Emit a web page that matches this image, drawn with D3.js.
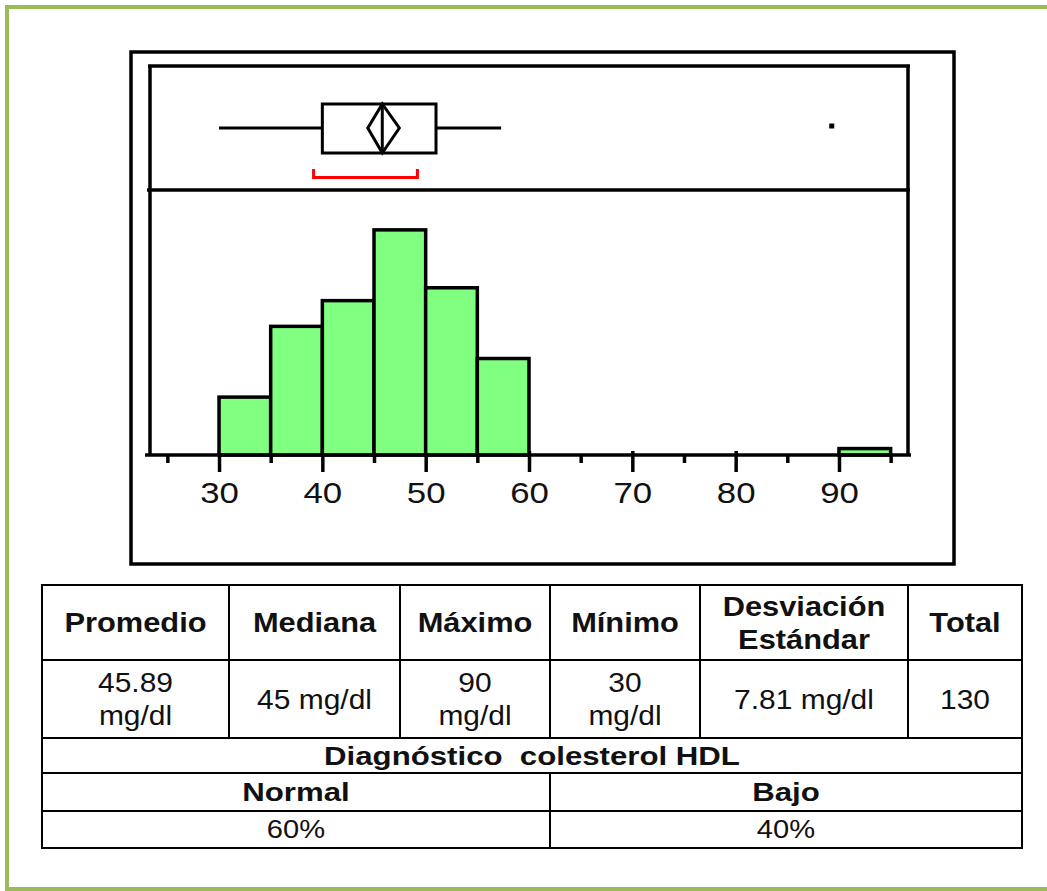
<!DOCTYPE html>
<html>
<head>
<meta charset="utf-8">
<script src="https://cdn.jsdelivr.net/npm/d3@7"></script>
<style>
  body { margin: 0; background: #fff; }
  svg { display: block; }
</style>
</head>
<body>
<script>
// HDL histogram + boxplot, stats table below

// histogram data (5 mg/dl bins)
var binStarts = [30, 35, 40, 45, 50, 55, 90];
var binWidth = 5;
var counts = [9, 20, 24, 35, 26, 15, 1];

// boxplot
var whiskers = [30, 57.3];
var quartiles = [40, 51];
var centreLine = 45.8;
var diamond = [44.4, 47.45];
var shortest = [39.15, 49.2];
var outliers = [89.3];

// axis ticks
var majorTicks = [30, 40, 50, 60, 70, 80, 90];
var minorTicks = [25, 35, 45, 55, 65, 75, 85, 95];

// table
var headers = [["Promedio"], ["Mediana"], ["Máximo"], ["Mínimo"], ["Desviación", "Estándar"], ["Total"]];
var values = [["45.89", "mg/dl"], ["45 mg/dl"], ["90", "mg/dl"], ["30", "mg/dl"], ["7.81 mg/dl"], ["130"]];
var diagTitle = "Diagnóstico  colesterol HDL";
var diagLabels = ["Normal", "Bajo"];
var diagValues = ["60%", "40%"];

var W = 1047, H = 891;
var svg = d3.select("body").append("svg").attr("width", W).attr("height", H);

// green frame
svg.append("rect").attr("x", 7).attr("y", 7).attr("width", 1050).attr("height", 882)
   .attr("fill", "none").attr("stroke", "#9bbb59").attr("stroke-width", 4);

// outer chart box
svg.append("rect").attr("x", 131).attr("y", 52).attr("width", 823).attr("height", 512)
   .attr("fill", "none").attr("stroke", "#000").attr("stroke-width", 3.5);

var pLeft = 150, pRight = 908, pTop = 66, pSep = 190, pBase = 455;

var x = d3.scaleLinear().domain([23.32, 96.68]).range([pLeft, pRight]);
var y = d3.scaleLinear().domain([0, 41.2]).range([pBase, pSep]);

// inner box
var g = svg.append("g").attr("stroke", "#000").attr("stroke-width", 3.5);
g.append("line").attr("x1", pLeft - 2).attr("x2", pRight + 2).attr("y1", pTop).attr("y2", pTop);
g.append("line").attr("x1", pLeft).attr("x2", pLeft).attr("y1", pTop).attr("y2", pBase);
g.append("line").attr("x1", pRight).attr("x2", pRight).attr("y1", pTop).attr("y2", pBase);
g.append("line").attr("x1", pLeft - 3).attr("x2", pRight + 2).attr("y1", pSep).attr("y2", pSep);

// small up-ticks
svg.append("g").attr("transform", "translate(0," + pBase + ")")
   .call(d3.axisBottom(x).tickValues(majorTicks).tickSize(-4).tickSizeOuter(0).tickFormat(""))
   .call(function(a) { a.select(".domain").remove(); a.selectAll("line").attr("stroke-width", 3.5); });

// histogram bars
svg.append("g").selectAll("rect")
   .data(binStarts)
   .enter()
   .append("rect")
   .attr("x", function(d) { return x(d); })
   .attr("width", function(d) { return x(d + binWidth) - x(d); })
   .attr("y", function(d, i) { return y(counts[i]); })
   .attr("height", function(d, i) { return y(0) - y(counts[i]); })
   .attr("fill", "#80ff80")
   .attr("stroke", "#000")
   .attr("stroke-width", 3.5);

// axis
var ax = svg.append("g").attr("transform", "translate(0," + pBase + ")")
   .call(d3.axisBottom(x).tickValues(majorTicks).tickSize(17).tickSizeOuter(0).tickPadding(10));
ax.select(".domain").attr("stroke-width", 3.5).attr("d", "M" + (pLeft - 5) + ",0H" + (pRight + 3));
ax.selectAll(".tick line").attr("stroke-width", 3.5);
ax.selectAll("text")
  .attr("font-family", "Liberation Sans, Arial, sans-serif")
  .attr("font-size", 30)
  .attr("fill", "#111")
  .attr("transform", "scale(1.16,1)");

svg.append("g").attr("transform", "translate(0," + pBase + ")")
   .call(d3.axisBottom(x).tickValues(minorTicks).tickSize(8).tickSizeOuter(0).tickFormat(""))
   .call(function(a) { a.select(".domain").remove(); a.selectAll("line").attr("stroke-width", 3.5); });

// boxplot
var by = 128, bt = 104, bb = 153;
var bp = svg.append("g").attr("stroke", "#000").attr("stroke-width", 3).attr("fill", "none");
bp.append("line").attr("x1", x(whiskers[0])).attr("x2", x(quartiles[0])).attr("y1", by).attr("y2", by);
bp.append("line").attr("x1", x(quartiles[1])).attr("x2", x(whiskers[1])).attr("y1", by).attr("y2", by);
bp.append("rect").attr("x", x(quartiles[0])).attr("y", bt)
  .attr("width", x(quartiles[1]) - x(quartiles[0])).attr("height", bb - bt);
bp.append("line").attr("x1", x(centreLine)).attr("x2", x(centreLine)).attr("y1", bt).attr("y2", bb);
bp.append("path")
  .attr("d", "M" + x(diamond[0]) + "," + by + "L" + x(centreLine) + "," + bt + "L" + x(diamond[1]) + "," + by +
             "L" + x(centreLine) + "," + bb + "Z");

svg.selectAll(".outlier").data(outliers).enter().append("rect")
   .attr("class", "outlier")
   .attr("x", function(d) { return x(d) - 2.5; }).attr("y", by - 4.5)
   .attr("width", 5).attr("height", 5).attr("fill", "#000");

// shortest half bracket
svg.append("path")
   .attr("d", "M" + x(shortest[0]) + ",169V177.5H" + x(shortest[1]) + "V169")
   .attr("fill", "none").attr("stroke", "#ff0000").attr("stroke-width", 3);

// ---- table ----
var cols = [42, 229, 400, 550, 700, 908, 1022];
var rows = [585, 660, 738, 773, 811, 848];
var mid = 550;

var t = svg.append("g").attr("stroke", "#000").attr("stroke-width", 2).attr("fill", "none");
t.append("rect").attr("x", cols[0]).attr("y", rows[0]).attr("width", cols[6] - cols[0]).attr("height", rows[5] - rows[0]);
rows.slice(1, 5).forEach(function(r) {
  t.append("line").attr("x1", cols[0]).attr("x2", cols[6]).attr("y1", r).attr("y2", r);
});
cols.slice(1, 6).forEach(function(c) {
  t.append("line").attr("x1", c).attr("x2", c).attr("y1", rows[0]).attr("y2", rows[2]);
});
t.append("line").attr("x1", mid).attr("x2", mid).attr("y1", rows[3]).attr("y2", rows[5]);

function cellText(lines, cx, cy, bold, size, sx) {
  var gap = size * 1.2;
  var y0 = cy - (lines.length - 1) * gap / 2;
  lines.forEach(function(s, i) {
    svg.append("text")
       .attr("transform", "translate(" + cx + "," + (y0 + i * gap) + ") scale(" + sx + ",1)")
       .attr("text-anchor", "middle")
       .attr("dominant-baseline", "central")
       .attr("font-family", "Liberation Sans, Arial, sans-serif")
       .attr("font-weight", bold ? "bold" : "normal")
       .attr("font-size", size)
       .attr("fill", "#111")
       .style("white-space", "pre")
       .text(s);
  });
}

headers.forEach(function(h, i) {
  cellText(h, (cols[i] + cols[i + 1]) / 2, (rows[0] + rows[1]) / 2, true, 28, 1.1);
});
values.forEach(function(v, i) {
  cellText(v, (cols[i] + cols[i + 1]) / 2, (rows[1] + rows[2]) / 2, false, 28, 1.07);
});
cellText([diagTitle], (cols[0] + cols[6]) / 2, (rows[2] + rows[3]) / 2, true, 26, 1.2);
diagLabels.forEach(function(s, i) {
  var a = i === 0 ? cols[0] : mid, b = i === 0 ? mid : cols[6];
  cellText([s], (a + b) / 2, (rows[3] + rows[4]) / 2, true, 26, 1.2);
});
diagValues.forEach(function(s, i) {
  var a = i === 0 ? cols[0] : mid, b = i === 0 ? mid : cols[6];
  cellText([s], (a + b) / 2, (rows[4] + rows[5]) / 2, false, 26, 1.12);
});
</script>
</body>
</html>
